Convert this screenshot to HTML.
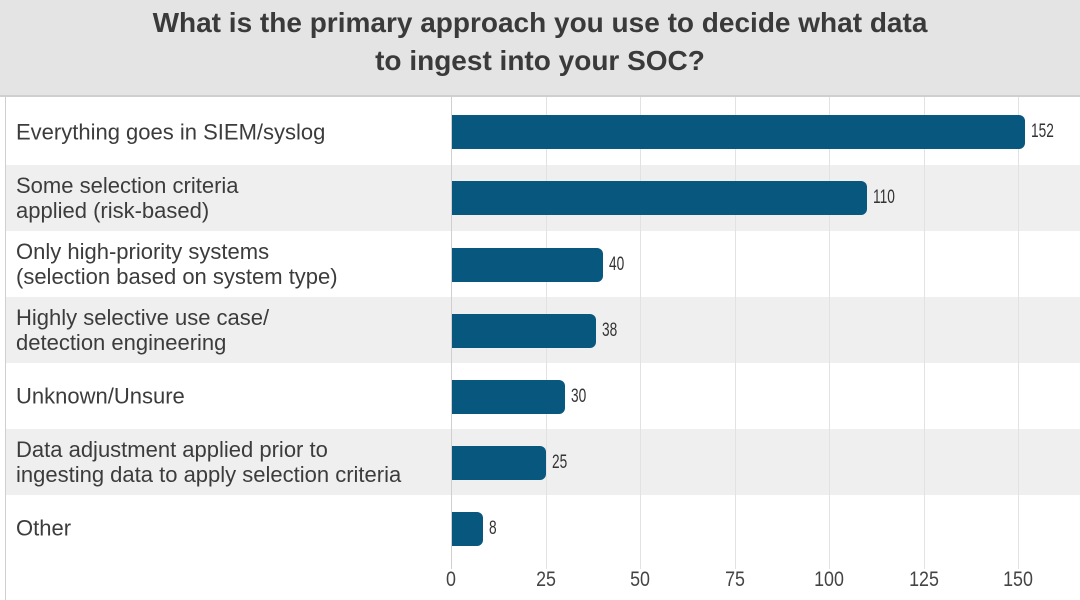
<!DOCTYPE html>
<html><head><meta charset="utf-8"><style>
body{margin:0;width:1080px;height:600px;overflow:hidden;background:#fff;font-family:"Liberation Sans",sans-serif;color:#333}
.title{position:absolute;left:0;top:0;width:1080px;height:97px;background:#e4e4e4;border-bottom:2px solid #cfcfcf;text-align:center;font-weight:bold;font-size:28px;line-height:38px;color:#3a3a3a;padding-top:4px;box-sizing:border-box}
.row{position:absolute;left:6px;width:1074px;height:66px}
.g{background:#efefef}
.lab{position:absolute;left:10px;font-size:22px;line-height:25px;color:#3c3c3c;top:50%;transform:translateY(-50%);white-space:nowrap}
.bar{position:absolute;left:452px;height:34px;background:#07577f;border-radius:0 6px 6px 0}
.val{position:absolute;font-size:19px;color:#333;transform:scaleX(0.72);transform-origin:left}
.grid{position:absolute;top:97px;height:472px;width:1px;background:#e2e2e2}
.tick{position:absolute;top:568px;font-size:21px;color:#444;transform:translateX(-50%) scaleX(0.85)}
</style></head><body>
<div class="title">What is the primary approach you use to decide what data<br>to ingest into your SOC?</div>
<div style="position:absolute;left:5px;top:97px;width:1px;height:503px;background:#cfcfcf"></div>
<div class="row" style="top:99px"><div class="lab">Everything goes in SIEM/syslog</div></div>
<div class="row g" style="top:165px"><div class="lab">Some selection criteria<br>applied (risk-based)</div></div>
<div class="row" style="top:231px"><div class="lab">Only high-priority systems<br>(selection based on system type)</div></div>
<div class="row g" style="top:297px"><div class="lab">Highly selective use case/<br>detection engineering</div></div>
<div class="row" style="top:363px"><div class="lab">Unknown/Unsure</div></div>
<div class="row g" style="top:429px"><div class="lab">Data adjustment applied prior to<br>ingesting data to apply selection criteria</div></div>
<div class="row" style="top:495px"><div class="lab">Other</div></div>
<div style="position:absolute;left:451px;top:97px;width:1px;height:472px;background:#cfcfcf"></div>
<div class="grid" style="left:546px"></div><div class="grid" style="left:640px"></div><div class="grid" style="left:735px"></div><div class="grid" style="left:829px"></div><div class="grid" style="left:924px"></div><div class="grid" style="left:1018px"></div>
<div class="bar" style="top:115px;width:573px"></div><div class="val" style="left:1031px;top:121px">152</div>
<div class="bar" style="top:181px;width:415px"></div><div class="val" style="left:873px;top:187px">110</div>
<div class="bar" style="top:248px;width:151px"></div><div class="val" style="left:609px;top:254px">40</div>
<div class="bar" style="top:314px;width:144px"></div><div class="val" style="left:602px;top:320px">38</div>
<div class="bar" style="top:380px;width:113px"></div><div class="val" style="left:571px;top:386px">30</div>
<div class="bar" style="top:446px;width:94px"></div><div class="val" style="left:552px;top:452px">25</div>
<div class="bar" style="top:512px;width:31px"></div><div class="val" style="left:489px;top:518px">8</div>
<div class="tick" style="left:451px">0</div><div class="tick" style="left:546px">25</div><div class="tick" style="left:640px">50</div><div class="tick" style="left:735px">75</div><div class="tick" style="left:829px">100</div><div class="tick" style="left:924px">125</div><div class="tick" style="left:1018px">150</div>
</body></html>
